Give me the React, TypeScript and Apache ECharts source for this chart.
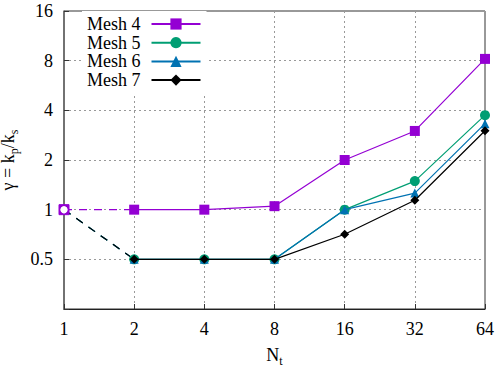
import React, { useEffect, useRef } from "react";
import * as echarts from "echarts";

const Nt = [1, 2, 4, 8, 16, 32, 64];
const seriesNames = ["Mesh 4", "Mesh 5", "Mesh 6", "Mesh 7"];
const mesh4 = [1, 1, 1, 1.05, 2, 3.0, 8.2];
const mesh5 = [1, 0.5, 0.5, 0.5, 1, 1.49, 3.74];
const mesh6 = [1, 0.5, 0.5, 0.5, 1, 1.26, 3.32];
const mesh7 = [1, 0.5, 0.5, 0.5, 0.71, 1.14, 3.01];
const yTicksHidden = [0.25];

const colors = ["#9400D3", "#009E73", "#0072B2", "#000000"];
const symbols = ["rect", "circle", "triangle", "diamond"];
const sizes = [10, 10, 9, 9];
const extSymbols = ["rect", "emptyCircle", "emptyCircle", "emptyCircle"];
const extSizes = [10, 7, 7, 6];

const FONT = "'Liberation Serif', 'Times New Roman', serif";

const nameStyle = {
  fontFamily: FONT,
  fontSize: 18,
  lineHeight: 24,
  color: "#000",
  rich: {
    sub: { fontFamily: FONT, fontSize: 12, lineHeight: 12, color: "#000", verticalAlign: "bottom" },
  },
};

export default function App() {
  const ref = useRef<HTMLDivElement>(null);
  useEffect(() => {
    if (!ref.current) return;
    const chart = echarts.init(ref.current, undefined, { renderer: "svg" });
    const all = [mesh4, mesh5, mesh6, mesh7];
    const extSeries = all.map((vals, i) => ({
      name: seriesNames[i] + " ext",
      type: "line",
      clip: false,
      z: 2,
      data: [
        { value: [Nt[0], vals[0]], symbol: extSymbols[i], symbolSize: extSizes[i] },
        { value: [Nt[1], vals[1]], symbol: "none" },
      ],
      lineStyle: { color: colors[i], width: 1.2, type: [8, 7] },
      itemStyle: { color: i === 0 ? colors[0] : "transparent", borderColor: colors[i] },
      showSymbol: true,
    }));
    const mainSeries = all.map((vals, i) => ({
      name: seriesNames[i],
      type: "line",
      clip: false,
      z: 3 + i,
      symbol: symbols[i],
      symbolSize: sizes[i],
      data: Nt.slice(1).map((x, k) => [x, vals[k + 1]]),
      lineStyle: { color: colors[i], width: 1.2 },
      itemStyle: { color: colors[i] },
    }));
    chart.setOption({
      animation: false,
      textStyle: { fontFamily: FONT },
      grid: {
        left: 64,
        top: 11,
        right: 15,
        bottom: 61,
        show: true,
        borderColor: "#333",
        borderWidth: 1,
        outerBoundsMode: "none",
        containLabel: false,
      },
      legend: {
        data: seriesNames,
        orient: "vertical",
        align: "right",
        left: 82,
        top: 11,
        padding: [4, 5, 4, 5],
        itemWidth: 49,
        itemHeight: 14,
        itemGap: 0.7,
        backgroundColor: "#ffffff",
        lineStyle: { width: 2 },
        textStyle: { fontFamily: FONT, fontSize: 18, lineHeight: 18, color: "#000", padding: [0, 6, 0, 0] },
        z: 10,
      },
      xAxis: {
        type: "log",
        logBase: 2,
        min: 1,
        max: 64,
        name: "N{sub|t}",
        nameLocation: "middle",
        nameGap: 34,
        nameTextStyle: nameStyle,
        axisLine: { lineStyle: { color: "#222", width: 1.2 } },
        axisTick: { inside: true, length: 5, lineStyle: { color: "#333" } },
        axisLabel: { fontFamily: FONT, fontSize: 18, color: "#000", margin: 11 },
        splitLine: { show: true, lineStyle: { color: "#999", type: [2, 3], width: 1 } },
      },
      yAxis: {
        type: "log",
        logBase: 2,
        min: 0.25,
        max: 16,
        name: "γ = k{sub|p}/k{sub|s}",
        nameLocation: "middle",
        nameRotate: 90,
        nameGap: 34,
        nameTextStyle: nameStyle,
        axisLine: { lineStyle: { color: "#666", width: 1.5 } },
        axisTick: { inside: true, length: 5, lineStyle: { color: "#333" } },
        axisLabel: {
          fontFamily: FONT,
          fontSize: 18,
          color: "#000",
          margin: 11,
          formatter: (v: number) => (yTicksHidden.some((h) => Math.abs(h - v) < 1e-6) ? "" : String(v)),
        },
        splitLine: { show: true, lineStyle: { color: "#999", type: [2, 3], width: 1 } },
      },
      series: [...extSeries, ...mainSeries],
    });
    return () => chart.dispose();
  }, []);
  return <div ref={ref} style={{ width: 500, height: 370, position: "absolute", left: 0, top: 0, background: "#fff" }} />;
}
